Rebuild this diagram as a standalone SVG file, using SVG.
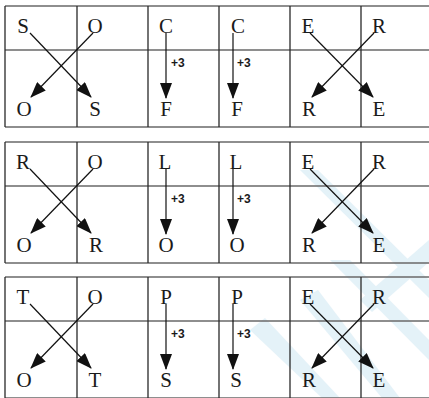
<svg xmlns="http://www.w3.org/2000/svg" width="429" height="398" viewBox="0 0 429 398">
<style>
.h{stroke:#6a6a6a;stroke-width:1.5;fill:none}
.v{stroke:#2a2a2a;stroke-width:1.3;fill:none}
.l{font-family:"Liberation Serif","Times New Roman",serif;font-size:21px;fill:#1a1a1a;text-anchor:middle}
.p{font-family:"Liberation Sans",Arial,sans-serif;font-size:12px;font-weight:bold;fill:#1a1a1a}
.a{stroke:#111;stroke-width:1.2;fill:none;marker-end:url(#ah)}
</style>
<defs>
<marker id="ah" viewBox="0 0 16 12" refX="15" refY="6" markerWidth="16" markerHeight="12" markerUnits="userSpaceOnUse" orient="auto">
<path d="M0,0 L16,6 L0,12 Z" fill="#111"/>
</marker>
<g id="grid">
<path class="h" d="M5,0 H429 M5,44 H429 M5,121 H429"/>
<path class="v" d="M5,0 V121 M77,0 V121 M148,0 V121 M219,0 V121 M290,0 V121 M361,0 V121"/>
</g>
<g id="arrows">
<path class="a" d="M30,27 L91,91"/>
<path class="a" d="M93,27 L31,91"/>
<path class="a" d="M166,27 V92"/>
<path class="a" d="M233,27 V92"/>
<path class="a" d="M310,27 L373,91"/>
<path class="a" d="M374,27 L312,91"/>
</g>
</defs>
<g id="watermark" fill="#cfe8f4" opacity="0.55">
<polygon points="300,170 318,170 429,280 429,298"/>
<polygon points="330,260 350,260 429,340 429,360"/>
<polygon points="250,330 265,318 340,398 322,398"/>
<polygon points="300,300 318,290 400,398 382,398"/>
<polygon points="360,300 429,240 429,262 372,312"/>
</g>
<g id="table1" transform="translate(0,6)">
<use href="#grid"/>
<g id="t1-top"><text class="l" x="23" y="27">S</text><text class="l" x="95" y="27">O</text><text class="l" x="166" y="27">C</text><text class="l" x="238" y="27">C</text><text class="l" x="308" y="27">E</text><text class="l" x="379" y="27">R</text></g>
<g id="t1-bottom"><text class="l" x="24" y="110">O</text><text class="l" x="95" y="110">S</text><text class="l" x="166" y="110">F</text><text class="l" x="237" y="110">F</text><text class="l" x="309" y="110">R</text><text class="l" x="379" y="110">E</text></g>
</g>
<g id="table2" transform="translate(0,142)">
<use href="#grid"/>
<g id="t2-top"><text class="l" x="23" y="27">R</text><text class="l" x="95" y="27">O</text><text class="l" x="165" y="27">L</text><text class="l" x="236" y="27">L</text><text class="l" x="308" y="27">E</text><text class="l" x="379" y="27">R</text></g>
<g id="t2-bottom"><text class="l" x="24" y="110">O</text><text class="l" x="96" y="110">R</text><text class="l" x="166" y="110">O</text><text class="l" x="237" y="110">O</text><text class="l" x="309" y="110">R</text><text class="l" x="379" y="110">E</text></g>
</g>
<g id="table3" transform="translate(0,277)">
<use href="#grid"/>
<g id="t3-top"><text class="l" x="23" y="27">T</text><text class="l" x="95" y="27">O</text><text class="l" x="166" y="27">P</text><text class="l" x="237" y="27">P</text><text class="l" x="308" y="27">E</text><text class="l" x="379" y="27">R</text></g>
<g id="t3-bottom"><text class="l" x="24" y="110">O</text><text class="l" x="95" y="110">T</text><text class="l" x="166" y="110">S</text><text class="l" x="236" y="110">S</text><text class="l" x="309" y="110">R</text><text class="l" x="379" y="110">E</text></g>
</g>
<g id="connectors">
<use href="#arrows" y="6"/>
<use href="#arrows" y="142"/>
<use href="#arrows" y="277"/>
</g>
<g id="labels">
<text class="p" x="171" y="67">+3</text><text class="p" x="237" y="67">+3</text>
<text class="p" x="171" y="203">+3</text><text class="p" x="237" y="203">+3</text>
<text class="p" x="171" y="338">+3</text><text class="p" x="237" y="338">+3</text>
</g>
</svg>
